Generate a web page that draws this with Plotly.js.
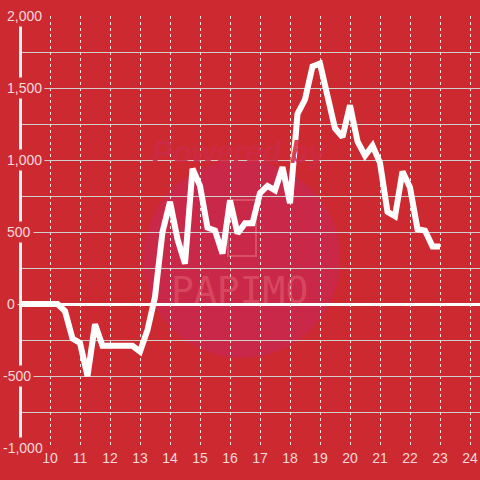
<!DOCTYPE html>
<html>
<head>
<meta charset="utf-8">
<script src="https://cdn.plot.ly/plotly-3.0.1.min.js"></script>
<style>
html,body{margin:0;padding:0;background:#cc2a30;}
#chart{width:480px;height:480px;}
</style>
</head>
<body>
<div id="chart"></div>
<script>
// Hours of day (15-minute steps) and cumulative values
const hours = [9.00,9.25,9.50,9.75,
  10.00,10.25,10.50,10.75,11.00,11.25,11.50,11.75,12.00,12.25,12.50,12.75,
  13.00,13.25,13.50,13.75,14.00,14.25,14.50,14.75,15.00,15.25,15.50,15.75,
  16.00,16.25,16.50,16.75,17.00,17.25,17.50,17.75,18.00,18.25,18.50,18.75,
  19.00,19.25,19.50,19.75,20.00,20.25,20.50,20.75,21.00,21.25,21.50,21.75,
  22.00,22.25,22.50,22.75,23.00];
const values = [0,0,0,0,
  0,0,-50,-240,-270,-500,-140,-290,-290,-290,-290,-290,
  -330,-180,50,500,710,450,280,940,820,530,510,350,
  720,490,560,560,770,820,790,950,700,1320,1420,1650,
  1670,1450,1220,1160,1380,1130,1030,1100,980,640,610,920,
  810,520,510,400,400];
const xTickVals = [10,11,12,13,14,15,16,17,18,19,20,21,22,23,24];
const xTickText = ["10","11","12","13","14","15","16","17","18","19","20","21","22","23","24"];
const yTickVals = [2000,1500,1000,500,0,-500,-1000];
const yTickText = ["2,000","1,500","1,000","500","0","-500","-1,000"];

const BG = '#cc2a30';
const LABEL = '#f4d8da';
const GRID = '#cfcfcf';
const L = 22;

const yLabels = yTickVals.map((v, i) => ({
  xref: 'paper', yref: 'y', x: 0, y: v,
  xanchor: 'left', yanchor: 'middle',
  xshift: (yTickText[i].startsWith('-') ? 0 : 4) - L,
  text: yTickText[i], showarrow: false,
  bgcolor: BG, borderpad: 2,
  font: {family: 'Liberation Sans, Arial, sans-serif', size: 14, color: LABEL}
}));

const trace = {
  x: hours, y: values, type: 'scatter', mode: 'lines',
  line: {color: '#ffffff', width: 6, shape: 'linear'},
  hoverinfo: 'skip'
};

const layout = {
  width: 480, height: 480,
  margin: {l: L, r: 0, t: 16, b: 32, pad: 0},
  paper_bgcolor: BG, plot_bgcolor: BG,
  showlegend: false,
  font: {family: 'Liberation Sans, Arial, sans-serif', size: 14, color: LABEL},
  xaxis: {
    range: [10 - (50 - L) / 30, 10 + 430 / 30],
    tickvals: xTickVals, ticktext: xTickText,
    showgrid: true, gridcolor: '#f0e6e6', gridwidth: 1, griddash: 'dot',
    zeroline: false, showline: false, ticks: '', ticklen: 0,
    tickfont: {size: 14, color: LABEL}, fixedrange: true
  },
  yaxis: {
    range: [-1000, 2000],
    tickvals: yTickVals,
    showticklabels: false,
    showgrid: true, gridcolor: GRID, gridwidth: 1,
    minor: {dtick: 250, tick0: 0, showgrid: true, gridcolor: GRID, gridwidth: 1, ticks: ''},
    ticks: 'outside', ticklen: 11, tickcolor: GRID, tickwidth: 1,
    zeroline: true, zerolinecolor: '#ffffff', zerolinewidth: 3,
    showline: true, linecolor: '#f2f2f2', linewidth: 3,
    fixedrange: true
  },
  shapes: [
    {type: 'circle', xref: 'paper', yref: 'paper', layer: 'below',
     x0: (143 - L) / 458, x1: (340 - L) / 458, y0: (448 - 358) / 432, y1: (448 - 160) / 432,
     fillcolor: 'rgb(201,40,72)', line: {width: 0}},
    {type: 'rect', xref: 'paper', yref: 'paper', layer: 'below',
     x0: (228 - L) / 458, x1: (256 - L) / 458, y0: (448 - 256) / 432, y1: (448 - 200) / 432,
     fillcolor: 'rgba(0,0,0,0)', line: {color: 'rgba(230,110,130,0.55)', width: 2}}
  ],
  annotations: yLabels.concat([
    {xref: 'paper', yref: 'paper', x: (240 - L) / 458, y: (448 - 133) / 432,
     text: '<b><i>Powered by</i></b>', showarrow: false,
     font: {family: 'Liberation Sans, Arial, sans-serif', size: 31, color: 'rgba(205,42,70,0.9)'}},
    {xref: 'paper', yref: 'paper', x: (239 - L) / 458, y: (448 - 290) / 432,
     text: 'PAPIMO', showarrow: false,
     font: {family: 'DejaVu Sans Mono, monospace', size: 38, color: 'rgba(235,110,125,0.45)'}}
  ])
};

Plotly.newPlot('chart', [trace], layout, {staticPlot: true, displayModeBar: false});
</script>
</body>
</html>
